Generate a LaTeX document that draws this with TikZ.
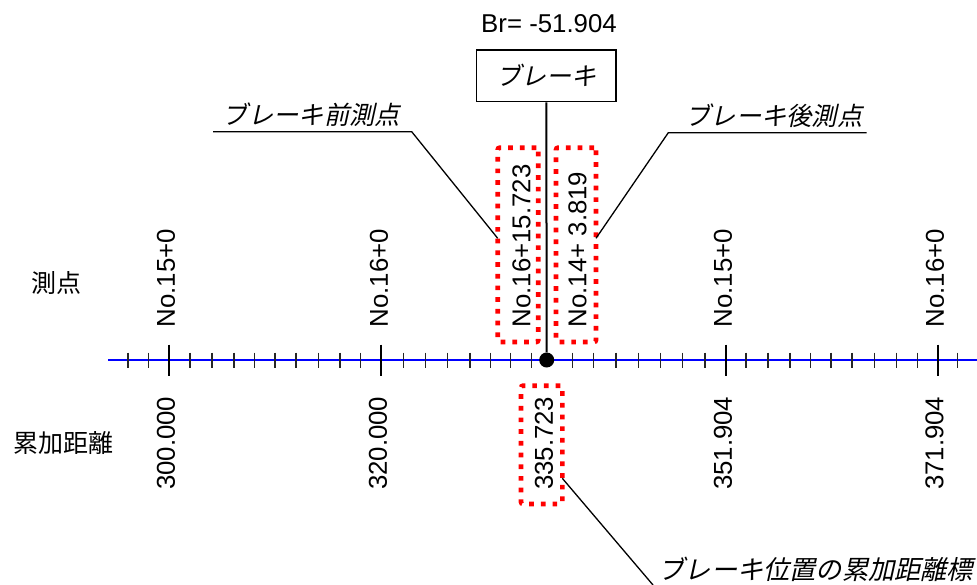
\documentclass[tikz,border=0pt]{standalone}
\usepackage{fontspec}
\setmainfont{Liberation Sans}
\newfontfamily\jp{Noto Sans CJK JP}
\newfontfamily\jpit[FakeSlant=0.22]{Noto Sans CJK JP}
\begin{document}
\begin{tikzpicture}[x=1pt,y=-1pt,
  txt/.style={font=\fontsize{25.8}{30}\selectfont, inner sep=0pt},
  vlbl/.style={txt, rotate=90},
  jtxt/.style={font=\fontsize{25}{30}\jp, inner sep=0pt},
  jit/.style={font=\fontsize{25.3}{30}\jpit, inner sep=0pt},
  redbox/.style={draw=red, line width=4.7pt, dash pattern=on 4.7pt off 7pt, rounded corners=2pt, inner sep=0pt},
  leader/.style={draw=black, line width=1.3pt},
  axisline/.style={draw=blue, line width=2pt},
  minortick/.style={draw=black!85, line width=1.4pt},
  majortick/.style={draw=black, line width=2.2pt},
]
\useasboundingbox (0,0) rectangle (977,585);

% axis
\draw[axisline] (108,360) -- (977,360);
\foreach \x in {128,148.7,190,212,234,254.7,275,296,318.3,340,360.7,403.3,425.7,447.7,470,490.3,510.7,531.7,572.3,593.3,616,638.7,660.7,682.7,705,746,768,790,810.7,831,852,874.3,896.7,917.3,957.7}
  \draw[minortick] (\x,352.5) -- (\x,367.5);
\foreach \x in {169.3,381,725.7,937.7}
  \draw[majortick] (\x,344.5) -- (\x,375.5);

% break box and marker
\node[draw, line width=1.5pt, minimum width=139.3pt, minimum height=51.7pt, inner sep=0pt,
      font=\fontsize{25}{30}\jpit] (bbox) at (546.3,75.85) {ブレーキ};
\node[txt, anchor=base] (br) at (549,33) {Br= -51.904};
\node[circle, fill=black, inner sep=0pt, minimum size=15pt] (brk) at (546.7,360) {};
\draw[line width=2pt] (bbox.south) -- (brk.north);

% row titles
\node[jtxt] (sokuten) at (56.7,283) {測点};
\node[jtxt] (ruika) at (63.3,443) {累加距離};

% station labels
\node[vlbl, anchor=west] (s1) at (166,327.5) {No.15+0};
\node[vlbl, anchor=west] (s2) at (379,327.5) {No.16+0};
\node[vlbl, anchor=west] (s3) at (521.5,327.5) {No.16+15.723};
\node[vlbl, anchor=west] (s4) at (577.5,327.5) {No.14+ 3.819};
\node[vlbl, anchor=west] (s5) at (723,327.5) {No.15+0};
\node[vlbl, anchor=west] (s6) at (935,327.5) {No.16+0};

% distance labels
\node[vlbl, anchor=east] (d1) at (166,396.5) {300.000};
\node[vlbl, anchor=east] (d2) at (378,396.5) {320.000};
\node[vlbl, anchor=east] (d3) at (544,396.5) {335.723};
\node[vlbl, anchor=east] (d4) at (723,396.5) {351.904};
\node[vlbl, anchor=east] (d5) at (934.5,396.5) {371.904};

% red dotted boxes
\node[redbox, minimum width=40.6pt, minimum height=194.3pt] (b1) at (518,244.85) {};
\node[redbox, minimum width=40pt, minimum height=194.3pt] (b2) at (576,244.85) {};
\node[redbox, minimum width=41.3pt, minimum height=118.3pt] (b3) at (541.7,444.85) {};

% callout labels
\node[jit] (pre) at (311.5,115) {ブレーキ前測点};
\node[jit] (post) at (774,116) {ブレーキ後測点};
\node[font=\fontsize{26.2}{30}\jpit, inner sep=0pt] (pos) at (815.8,569) {ブレーキ位置の累加距離標};

\coordinate (l1s) at (213,131.7);
\coordinate (l1k) at (411.7,131.7);
\coordinate (l1e) at (497.7,238.3);
\draw[leader] (l1s) -- (l1k) -- (l1e);

\coordinate (l2s) at (866.7,132.7);
\coordinate (l2k) at (668.3,132.7);
\coordinate (l2e) at (596,238.3);
\draw[leader] (l2s) -- (l2k) -- (l2e);

\coordinate (l3s) at (562.3,478.3);
\coordinate (l3e) at (653,585);
\draw[leader] (l3s) -- (l3e);
\end{tikzpicture}
\end{document}
